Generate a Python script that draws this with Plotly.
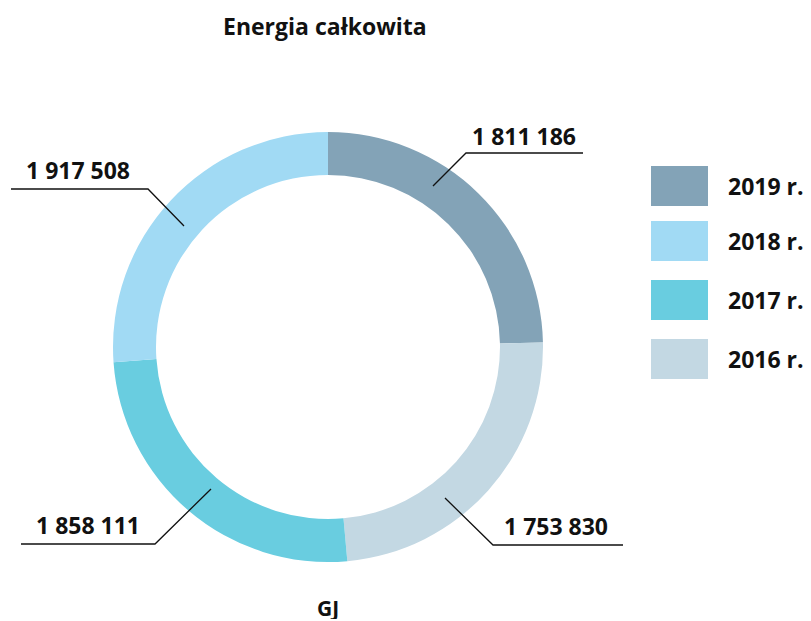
import plotly.graph_objects as go

# Data (clockwise from 12 o'clock)
years = ["2019 r.", "2016 r.", "2017 r.", "2018 r."]
values = [1811186, 1753830, 1858111, 1917508]
value_labels = ["1 811 186", "1 753 830", "1 858 111", "1 917 508"]
colors = ["#83A3B7", "#C3D8E3", "#69CDE0", "#A1DAF4"]

legend_order = ["2019 r.", "2018 r.", "2017 r.", "2016 r."]

# page body margin offset (8px) is compensated here
OFF = 8
W, H = 811 - OFF, 621 - OFF
FONT = "Open Sans"

def px(x):
    return (x - OFF) / W

def py(y):
    return 1 - (y - OFF) / H

fig = go.Figure()
fig.add_trace(go.Pie(
    labels=years,
    values=values,
    sort=False,
    direction="clockwise",
    rotation=0,
    hole=0.8,
    marker=dict(colors=colors, line=dict(width=0)),
    textinfo="none",
    hoverinfo="label+value",
    showlegend=False,
    domain=dict(x=[px(328 - 215), px(328 + 215)], y=[py(562), py(132)]),
))

shapes = []
annotations = []

# leader lines (pixel paths) and value labels
leaders = {
    "1 811 186": ([(433, 186), (466, 153), (583, 153)], (524, 136)),
    "1 753 830": ([(445, 498), (493, 545), (623, 545)], (556, 526)),
    "1 858 111": ([(211, 489), (155, 544), (21, 544)], (88, 525)),
    "1 917 508": ([(184, 226), (148, 189), (11, 189)], (78, 170)),
}
for lab in value_labels:
    pts, (tx, ty) = leaders[lab]
    path = "M " + " L ".join(f"{px(x)},{py(y)}" for x, y in pts)
    shapes.append(dict(type="path", xref="paper", yref="paper", path=path,
                       line=dict(color="#111111", width=1.3)))
    annotations.append(dict(x=px(tx), y=py(ty), xref="paper", yref="paper",
                            text=f"<b>{lab}</b>", showarrow=False,
                            xanchor="center", yanchor="middle",
                            font=dict(family=FONT, size=23, color="#111111")))

# manual legend
leg_y = [186, 241, 300, 359]
for name, yc in zip(legend_order, leg_y):
    c = colors[years.index(name)]
    shapes.append(dict(type="rect", xref="paper", yref="paper",
                       x0=px(651), x1=px(708), y0=py(yc + 20), y1=py(yc - 20),
                       fillcolor=c, line=dict(width=0)))
    annotations.append(dict(x=px(726), y=py(yc), xref="paper", yref="paper",
                            text=f"<b>{name}</b>", showarrow=False,
                            xanchor="left", yanchor="middle",
                            font=dict(family=FONT, size=23, color="#111111")))

# title and unit
annotations.append(dict(x=px(325), y=py(26), xref="paper", yref="paper",
                        text="<b>Energia całkowita</b>", showarrow=False,
                        xanchor="center", yanchor="middle",
                        font=dict(family=FONT, size=23, color="#111111")))
annotations.append(dict(x=px(328), y=py(608), xref="paper", yref="paper",
                        text="<b>GJ</b>", showarrow=False,
                        xanchor="center", yanchor="middle",
                        height=22, valign="middle",
                        font=dict(family=FONT, size=21, color="#111111")))

fig.update_layout(
    width=W, height=H,
    margin=dict(l=0, r=0, t=0, b=0),
    paper_bgcolor="white", plot_bgcolor="white",
    shapes=shapes, annotations=annotations,
    showlegend=False,
)

fig.write_html("out.html")
